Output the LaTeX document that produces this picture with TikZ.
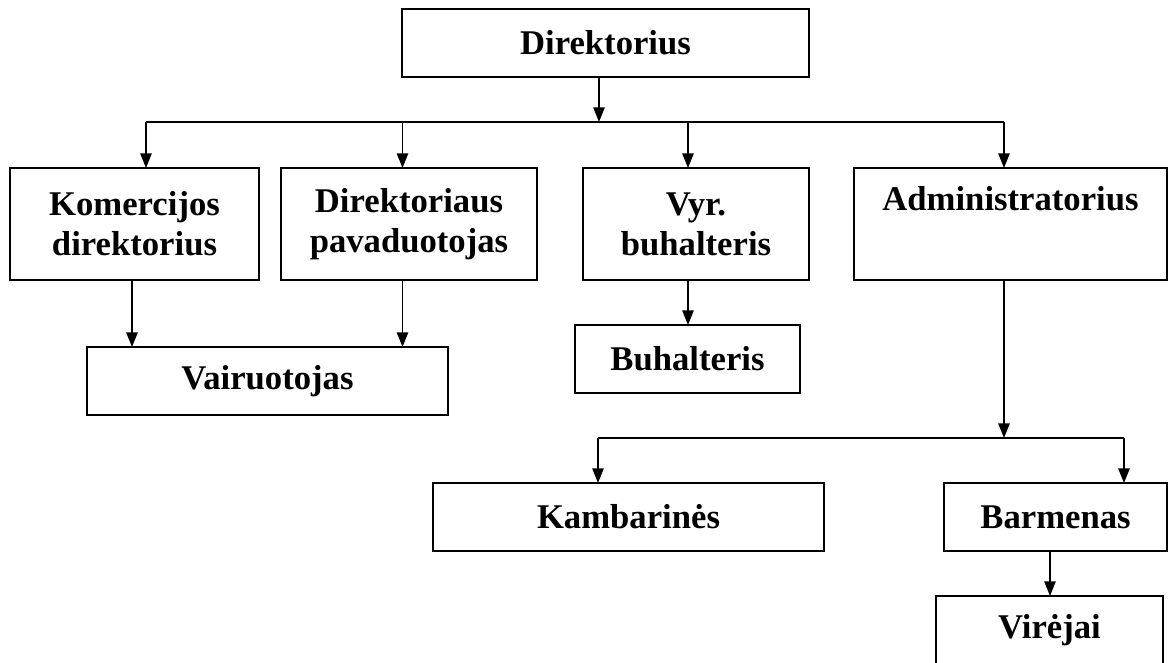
\documentclass[tikz,border=0pt]{standalone}
\usepackage{fontspec}
\setmainfont{Liberation Serif}
\usetikzlibrary{arrows.meta}
\begin{document}
\begin{tikzpicture}[x=0.75pt, y=-0.75pt,
  every path/.style={line width=1.25pt},
  box/.style={draw, rectangle, inner sep=0pt, outer sep=0pt, align=center,
    font=\bfseries\fontsize{26}{30}\selectfont},
  arr/.style={-{Triangle[length=11pt,width=8.5pt]}}]
\useasboundingbox (0,0) rectangle (1172,662);

% boxes (centre, width x height in px)
\node[box, minimum width=407*0.75pt, minimum height=68*0.75pt] (dir) at (605.5,43) {Direktorius};
\node[box, minimum width=249*0.75pt, minimum height=112*0.75pt] (kom) at (134.5,224) {Komercijos\\direktorius};
\node[box, minimum width=256*0.75pt, minimum height=112*0.75pt] (pav) at (409,224) {Direktoriaus\\pavaduotojas};
\node[box, minimum width=226*0.75pt, minimum height=112*0.75pt] (vyr) at (696,224) {Vyr.\\buhalteris};
\node[box, minimum width=313*0.75pt, minimum height=112*0.75pt] (adm) at (1010.5,224) {Administratorius\\\strut};
\node[box, minimum width=361*0.75pt, minimum height=68*0.75pt] (vai) at (267.5,381) {Vairuotojas};
\node[box, minimum width=225*0.75pt, minimum height=68*0.75pt] (buh) at (687.5,359) {Buhalteris};
\node[box, minimum width=391*0.75pt, minimum height=68*0.75pt] (kam) at (628.5,517) {Kambarinės};
\node[box, minimum width=223*0.75pt, minimum height=68*0.75pt] (bar) at (1055.5,517) {Barmenas};
\node[box, minimum width=227*0.75pt, minimum height=68*0.75pt] (vir) at (1049.5,630) {Virėjai};

% upper distribution line
\coordinate (busM) at (599,122);
\coordinate (busL) at (146,122);
\coordinate (bus2) at (402.5,122);
\coordinate (bus3) at (688,122);
\coordinate (busR) at (1004,122);
\draw (busL) -- (busR);
\draw[arr] (busM |- dir.south) -- (busM);
\draw[arr] (busL) -- (busL |- kom.north);
\draw[arr] (bus2) -- (bus2 |- pav.north);
\draw[arr] (bus3) -- (bus3 |- vyr.north);
\draw[arr] (busR) -- (busR |- adm.north);

% second level
\coordinate (k1) at (132,0);
\draw[arr] (k1 |- kom.south) -- (k1 |- vai.north);
\draw[arr] (bus2 |- pav.south) -- (bus2 |- vai.north);
\draw[arr] (bus3 |- vyr.south) -- (bus3 |- buh.north);

% administrator branch
\coordinate (cM) at (1004,438);
\coordinate (cL) at (598,438);
\coordinate (cR) at (1124,438);
\draw[arr] (busR |- adm.south) -- (cM);
\draw (cL) -- (cR);
\draw[arr] (cL) -- (cL |- kam.north);
\draw[arr] (cR) -- (cR |- bar.north);
\coordinate (v1) at (1050,0);
\draw[arr] (v1 |- bar.south) -- (v1 |- vir.north);
\end{tikzpicture}
\end{document}
